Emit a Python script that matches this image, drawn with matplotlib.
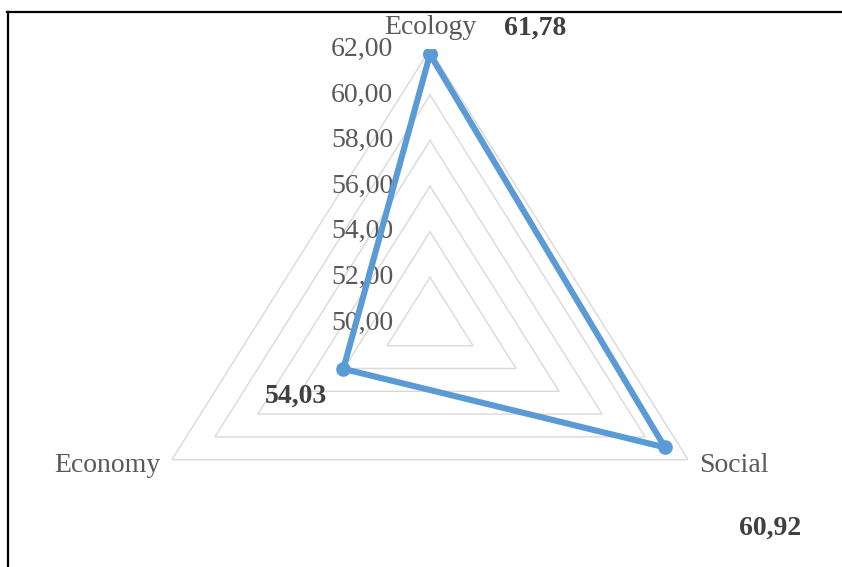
import numpy as np
import matplotlib
matplotlib.use("Agg")
import matplotlib.pyplot as plt
from matplotlib.lines import Line2D

# indicator scores per dimension
categories = ["Ecology", "Social", "Economy"]
scores = [61.78, 60.92, 54.03]
score_labels = ["61,78", "60,92", "54,03"]
levels = [52, 54, 56, 58, 60, 62]
tick_values = [50, 52, 54, 56, 58, 60, 62]
tick_labels = ["50,00", "52,00", "54,00", "56,00", "58,00", "60,00", "62,00"]

plt.rcParams["font.family"] = ["Liberation Serif", "DejaVu Serif"]
FS = 20
GREY = "#595959"

fig = plt.figure(figsize=(8.42, 5.67), dpi=100)
ax = fig.add_axes([0.1567, -0.052, 0.708, 0.965], projection="polar")
ax.set_theta_offset(np.pi / 2)
ax.set_theta_direction(-1)
ax.set_aspect("auto")
ax.set_ylim(50, 62)
ax.grid(False)
ax.spines["polar"].set_visible(False)
ax.set_xticks([])
ax.set_yticks([])
ax.patch.set_alpha(0)

angles = np.linspace(0, 2 * np.pi, len(categories), endpoint=False)
closed = np.append(angles, angles[0])

# triangular grid
for lv in levels:
    ax.plot(closed, [lv] * len(closed), color="#d9d9d9", lw=1.0, zorder=1)

# radial tick labels along the top axis
for v, t in zip(tick_values, tick_labels):
    ax.annotate(t, xy=(0, v), xytext=(-26.5, 0), textcoords="offset points",
                ha="right", va="center", fontsize=FS, color=GREY, zorder=3)

# category names
cat_offsets = [(0, 16, "center", "center"), (8, -4, "left", "center"),
               (-8.5, -4, "right", "center")]
for a, name, (dx, dy, ha, va) in zip(angles, categories, cat_offsets):
    ax.annotate(name, xy=(a, 62), xytext=(dx, dy), textcoords="offset points",
                ha=ha, va=va, fontsize=FS, color=GREY)

# data series
vals = scores + scores[:1]
ax.plot(closed, vals, color="#5b9bd5", lw=4.4, marker="o", markersize=9.5,
        solid_joinstyle="round", zorder=4)

val_offsets = [(76, 19), (76, -58), (-34, -20)]
for a, s, lab, (dx, dy) in zip(angles, scores, score_labels, val_offsets):
    ax.annotate(lab, xy=(a, s), xytext=(dx, dy), textcoords="offset points",
                ha="center", va="center", fontsize=FS, fontweight="bold",
                color="#404040")

# frame lines
fig.add_artist(Line2D([7 / 842, 1], [1 - 12 / 567] * 2, color="black", lw=1.6,
                      transform=fig.transFigure))
fig.add_artist(Line2D([8 / 842] * 2, [0, 1 - 12 / 567], color="black", lw=1.6,
                      transform=fig.transFigure))

fig.savefig("out.png", dpi=100)
